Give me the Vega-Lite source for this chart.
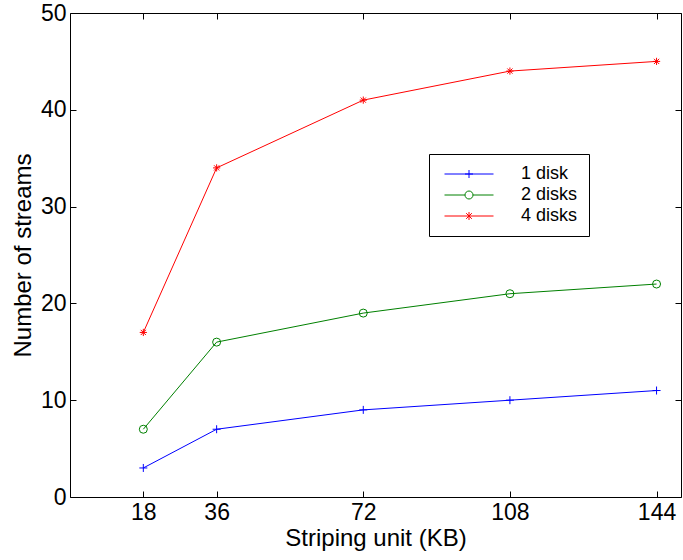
{
  "$schema": "https://vega.github.io/schema/vega-lite/v6.json",
  "width": 611,
  "height": 484,
  "autosize": {"type": "none"},
  "padding": {"left": 70, "top": 13, "right": 2, "bottom": 63},
  "background": "white",
  "config": {
    "font": "Liberation Sans",
    "view": {"stroke": "black", "strokeWidth": 1},
    "axis": {
      "domain": false,
      "grid": false,
      "tickColor": "black",
      "tickWidth": 1,
      "tickSize": -6,
      "labelColor": "black",
      "titleColor": "black",
      "labelFontSize": 23,
      "titleFontSize": 24,
      "titleFontWeight": "normal"
    }
  },
  "data": {
    "values": [
      {"unit": 18, "streams": 3, "series": "1 disk"},
      {"unit": 36, "streams": 7, "series": "1 disk"},
      {"unit": 72, "streams": 9, "series": "1 disk"},
      {"unit": 108, "streams": 10, "series": "1 disk"},
      {"unit": 144, "streams": 11, "series": "1 disk"},
      {"unit": 18, "streams": 7, "series": "2 disks"},
      {"unit": 36, "streams": 16, "series": "2 disks"},
      {"unit": 72, "streams": 19, "series": "2 disks"},
      {"unit": 108, "streams": 21, "series": "2 disks"},
      {"unit": 144, "streams": 22, "series": "2 disks"},
      {"unit": 18, "streams": 17, "series": "4 disks"},
      {"unit": 36, "streams": 34, "series": "4 disks"},
      {"unit": 72, "streams": 41, "series": "4 disks"},
      {"unit": 108, "streams": 44, "series": "4 disks"},
      {"unit": 144, "streams": 45, "series": "4 disks"}
    ]
  },
  "layer": [
    {
      "mark": {"type": "line", "strokeWidth": 1},
      "encoding": {
        "x": {
          "field": "unit",
          "type": "quantitative",
          "scale": {"domain": [0, 150], "nice": false, "zero": false},
          "axis": {
            "orient": "bottom",
            "values": [18, 36, 72, 108, 144],
            "title": "Striping unit (KB)",
            "labelPadding": 10,
            "titlePadding": 2
          }
        },
        "y": {
          "field": "streams",
          "type": "quantitative",
          "scale": {"domain": [0, 50], "nice": false},
          "axis": {
            "orient": "left",
            "values": [0, 10, 20, 30, 40, 50],
            "title": "Number of streams",
            "labelPadding": 10,
            "titlePadding": 5
          }
        },
        "color": {
          "field": "series",
          "type": "nominal",
          "scale": {
            "domain": ["1 disk", "2 disks", "4 disks"],
            "range": ["#0000ff", "#008000", "#ff0000"]
          },
          "legend": {
            "orient": "none",
            "legendX": 359,
            "legendY": 141,
            "title": null,
            "strokeColor": "black",
            "fillColor": "white",
            "padding": 11,
            "cornerRadius": 0,
            "labelFontSize": 18,
            "labelColor": "black",
            "labelOffset": 43,
            "rowPadding": 3,
            "symbolSize": 100,
            "symbolOffset": 20,
            "symbolStrokeWidth": 1,
            "encode": {
              "symbols": {
                "update": {
                  "shape": {
                    "signal": "datum.value === '1 disk' ? 'M-4.9,0H4.9M0,-0.8V0.8M-0.8,0H0.8' : datum.value === '2 disks' ? 'M-4.9,0H-0.8M0.8,0H4.9M0.8,0A0.8,0.8 0 1,1 -0.8,0A0.8,0.8 0 1,1 0.8,0' : 'M-4.9,0H4.9M0,-0.8V0.8M-0.57,-0.57L0.57,0.57M-0.57,0.57L0.57,-0.57'"
                  },
                  "fill": {"value": "transparent"},
                  "strokeWidth": {"value": 1}
                }
              }
            }
          }
        }
      }
    },
    {
      "transform": [{"filter": "datum.series === '1 disk'"}],
      "mark": {"type": "point", "filled": false, "size": 64, "strokeWidth": 1, "opacity": 1, "color": "#0000ff", "shape": "M-1,0H1M0,-1V1"},
      "encoding": {
        "x": {
          "field": "unit",
          "type": "quantitative",
          "axis": {"orient": "top", "values": [18, 36, 72, 108, 144], "labels": false, "title": null}
        },
        "y": {
          "field": "streams",
          "type": "quantitative",
          "axis": {"orient": "right", "values": [0, 10, 20, 30, 40, 50], "labels": false, "title": null}
        }
      }
    },
    {
      "transform": [{"filter": "datum.series === '2 disks'"}],
      "mark": {"type": "point", "filled": false, "size": 64, "strokeWidth": 1, "opacity": 1, "color": "#008000", "shape": "circle"},
      "encoding": {
        "x": {"field": "unit", "type": "quantitative", "axis": null},
        "y": {"field": "streams", "type": "quantitative", "axis": null}
      }
    },
    {
      "transform": [{"filter": "datum.series === '4 disks'"}],
      "mark": {"type": "point", "filled": false, "size": 64, "strokeWidth": 1, "opacity": 1, "color": "#ff0000", "shape": "M-0.9,0H0.9M0,-0.9V0.9M-0.65,-0.65L0.65,0.65M-0.65,0.65L0.65,-0.65"},
      "encoding": {
        "x": {"field": "unit", "type": "quantitative", "axis": null},
        "y": {"field": "streams", "type": "quantitative", "axis": null}
      }
    }
  ],
  "resolve": {"axis": {"x": "independent", "y": "independent"}}
}
